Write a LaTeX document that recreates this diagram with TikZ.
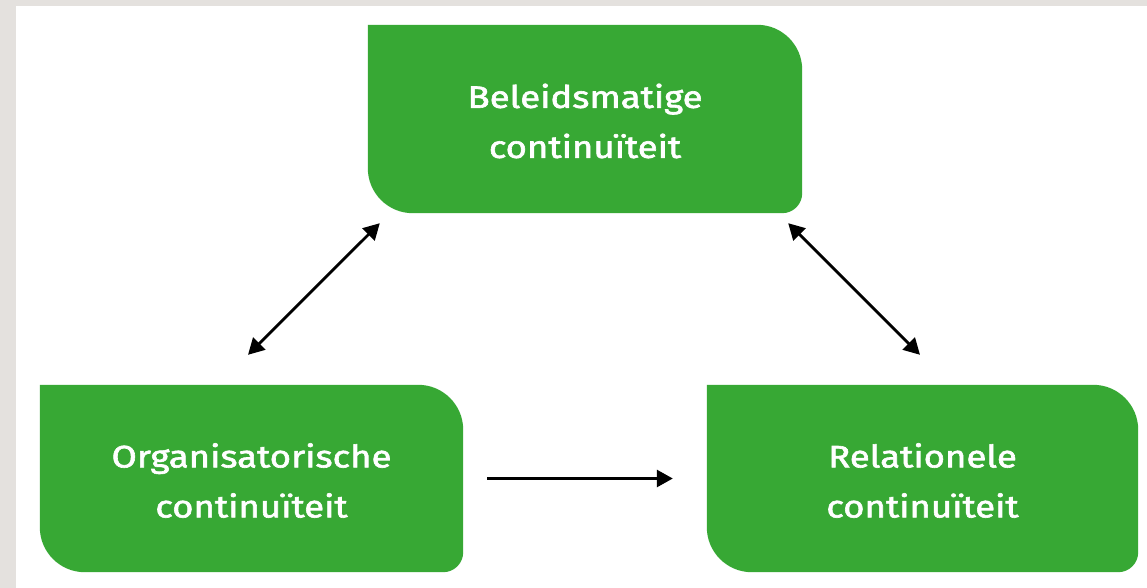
\documentclass[tikz,border=0pt]{standalone}
\usepackage{fontspec}
\setmainfont{Fira Sans}
\newfontfamily\boxfont{Fira Sans}[FakeBold=2,FakeStretch=1.18]
\usetikzlibrary{arrows.meta,calc}
\definecolor{boxgreen}{RGB}{55,168,52}
\definecolor{framegrey}{RGB}{228,225,222}
\tikzset{
  box/.style={rectangle, inner sep=0pt, align=center, text=white,
    font=\boxfont\fontsize{31}{50}\selectfont},
  link/.style={line width=2.8pt, draw=black, {Triangle[length=16pt,width=17pt]}-{Triangle[length=16pt,width=17pt]}},
  onelink/.style={line width=2.8pt, draw=black, -{Triangle[length=16pt,width=17pt]}}
}
\newcommand{\greenbox}[1]{%
  \fill[boxgreen] (#1.north west) -- ([xshift=-45pt]#1.north east)
    arc[start angle=90,end angle=0,radius=45pt]
    -- ([yshift=20pt]#1.south east)
    arc[start angle=0,end angle=-90,radius=20pt]
    -- ([xshift=45pt]#1.south west)
    arc[start angle=270,end angle=180,radius=45pt]
    -- cycle;}
\begin{document}
\begin{tikzpicture}[x=1pt,y=-1pt]
\useasboundingbox (0,0) rectangle (1147,588);
\fill[framegrey] (0,0) rectangle (1147,588);
\fill[white] (16,6) rectangle (1147,588);
% nodes
\node[box, minimum width=434pt, minimum height=188pt] (T) at (585,119) {};
\node[box, minimum width=423pt, minimum height=187pt] (L) at (251.5,478.5) {};
\node[box, minimum width=431pt, minimum height=187pt] (R) at (922.5,478.5) {};
\greenbox{T}
\greenbox{L}
\greenbox{R}
\node[box] (Tt) at ([yshift=-2pt]T) {Beleidsmatige\\continuïteit};
\node[box] (Lt) at ([yshift=-2pt]L) {Organisatorische\\continuïteit};
\node[box] (Rt) at ([yshift=-2pt]R) {Relationele\\continuïteit};
% connectors
\coordinate (a1s) at ([xshift=-3.5pt,yshift=30pt]L.north);
\coordinate (a1e) at ([xshift=12pt,yshift=-10pt]T.south west);
\coordinate (a2s) at ([xshift=-14pt,yshift=-10pt]T.south east);
\coordinate (a2e) at ([xshift=-2.5pt,yshift=30pt]R.north);
\coordinate (a3s) at ([xshift=24pt]L.east);
\coordinate (a3e) at ([xshift=-34pt]R.west);
\draw[link] (a1s) -- (a1e);
\draw[link] (a2s) -- (a2e);
\draw[onelink] (a3s) -- (a3e);
\end{tikzpicture}
\end{document}
